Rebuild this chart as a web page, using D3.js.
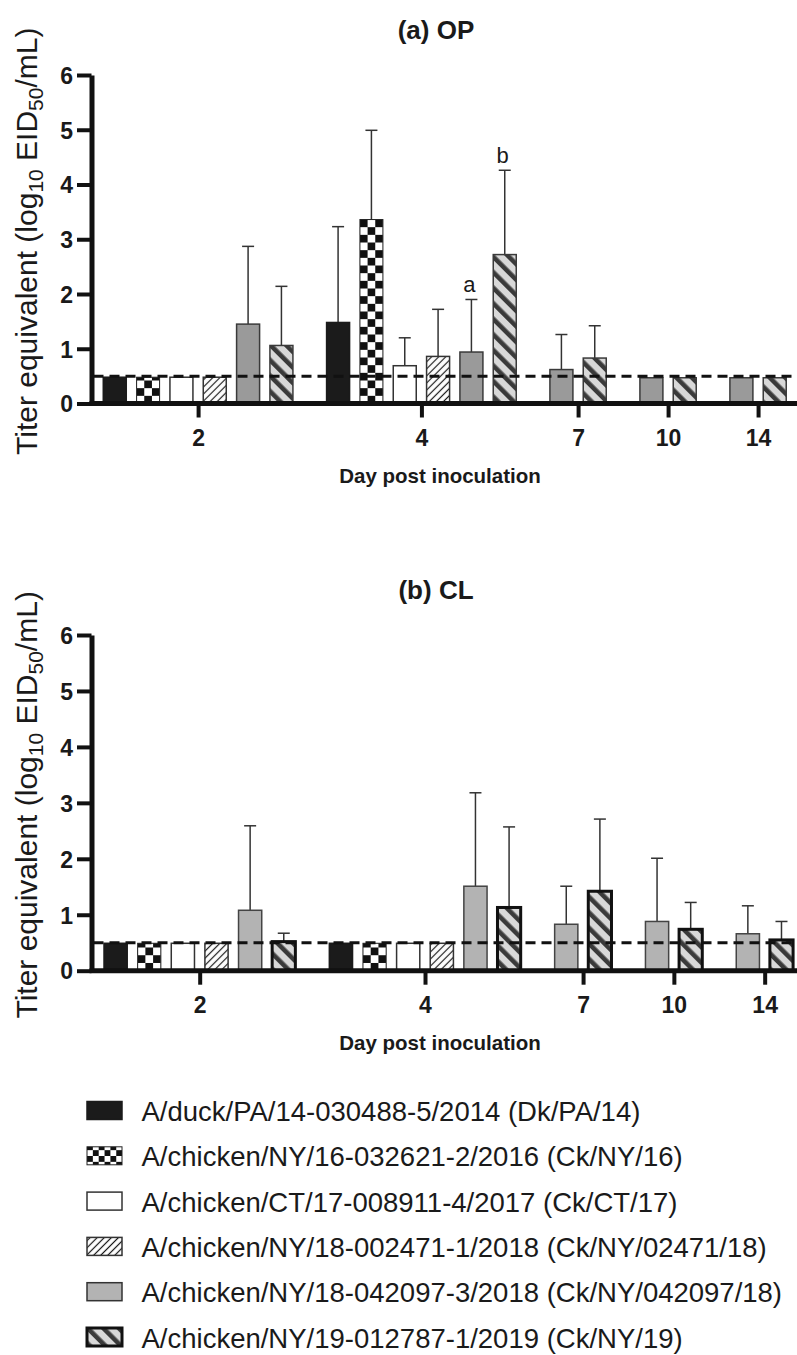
<!DOCTYPE html>
<html>
<head>
<meta charset="utf-8">
<script src="https://cdn.jsdelivr.net/npm/d3@7"></script>
<style>
  body { margin: 0; background: #fff; }
  text { font-family: "Liberation Sans", Arial, sans-serif; fill: #1a1a1a; }
</style>
</head>
<body>
<svg id="fig" width="797" height="1355"></svg>
<script>
// ---- data ----
var days = ["2", "4", "7", "10", "14"];

var strains = [
  "A/duck/PA/14-030488-5/2014 (Dk/PA/14)",
  "A/chicken/NY/16-032621-2/2016 (Ck/NY/16)",
  "A/chicken/CT/17-008911-4/2017 (Ck/CT/17)",
  "A/chicken/NY/18-002471-1/2018 (Ck/NY/02471/18)",
  "A/chicken/NY/18-042097-3/2018 (Ck/NY/042097/18)",
  "A/chicken/NY/19-012787-1/2019 (Ck/NY/19)"
];

// one row per strain, one column per day (null = not plotted)
var opMean = [
  [0.48, 1.48, null, null, null],
  [0.48, 3.36, null, null, null],
  [0.48, 0.69, null, null, null],
  [0.48, 0.86, null, null, null],
  [1.45, 0.94, 0.62, 0.47, 0.47],
  [1.06, 2.72, 0.83, 0.47, 0.47]
];
var opSD = [
  [0, 1.75, null, null, null],
  [0, 1.63, null, null, null],
  [0, 0.51, null, null, null],
  [0, 0.86, null, null, null],
  [1.42, 0.96, 0.64, 0, 0],
  [1.08, 1.54, 0.59, 0, 0]
];
var opLetters = [
  [null, null, null, null, null],
  [null, null, null, null, null],
  [null, null, null, null, null],
  [null, null, null, null, null],
  [null, "a", null, null, null],
  [null, "b", null, null, null]
];

var clMean = [
  [0.49, 0.49, null, null, null],
  [0.49, 0.49, null, null, null],
  [0.49, 0.49, null, null, null],
  [0.49, 0.49, null, null, null],
  [1.08, 1.51, 0.83, 0.88, 0.66],
  [0.52, 1.13, 1.42, 0.74, 0.55]
];
var clSD = [
  [0, 0, null, null, null],
  [0, 0, null, null, null],
  [0, 0, null, null, null],
  [0, 0, null, null, null],
  [1.51, 1.67, 0.68, 1.13, 0.50],
  [0.15, 1.44, 1.29, 0.48, 0.33]
];

var yTicks = [0, 1, 2, 3, 4, 5, 6];
var detectionLimit = 0.5;

// ---- drawing ----
var svg = d3.select("#fig");
var defs = svg.append("defs");

var hatch = defs.append("pattern")
    .attr("id", "hatch")
    .attr("patternUnits", "userSpaceOnUse")
    .attr("width", 5).attr("height", 5)
    .attr("patternTransform", "rotate(45)");
hatch.append("rect").attr("width", 5).attr("height", 5).attr("fill", "#fff");
hatch.append("line")
    .attr("x1", 2.5).attr("y1", 0).attr("x2", 2.5).attr("y2", 5)
    .attr("stroke", "#1a1a1a").attr("stroke-width", 1.2);

var diag = defs.append("pattern")
    .attr("id", "diag")
    .attr("patternUnits", "userSpaceOnUse")
    .attr("width", 11).attr("height", 11)
    .attr("patternTransform", "rotate(-45)");
diag.append("rect").attr("width", 11).attr("height", 11).attr("fill", "#d8d8d8");
diag.append("rect").attr("width", 4.6).attr("height", 11).attr("fill", "#3a3a3a");

var chkCount = 0;
function checker(x0, y0, size) {
  var id = "chk" + (chkCount++);
  var p = defs.append("pattern")
      .attr("id", id)
      .attr("patternUnits", "userSpaceOnUse")
      .attr("x", x0).attr("y", y0)
      .attr("width", size * 2).attr("height", size * 2);
  p.append("rect").attr("width", size * 2).attr("height", size * 2).attr("fill", "#fff");
  p.append("rect").attr("width", size).attr("height", size).attr("fill", "#111");
  p.append("rect").attr("x", size).attr("y", size).attr("width", size).attr("height", size).attr("fill", "#111");
  return "url(#" + id + ")";
}

var GAP = 0.7, PAD = 0.155;

function slotLayout(means) {
  var u = 0, slots = [], centers = [];
  days.forEach(function(d, di) {
    var start = u;
    d3.range(strains.length).forEach(function(s) {
      if (means[s][di] != null) { slots.push({ s: s, di: di, u: u }); u += 1; }
    });
    centers.push((start + u) / 2);
    u += GAP;
  });
  return { slots: slots, centers: centers, total: u - GAP };
}

function drawPanel(cfg) {
  var g = svg.append("g");
  var lay = slotLayout(cfg.mean);
  var x = d3.scaleLinear().domain([0, lay.total]).range(cfg.xRange);
  var y = d3.scaleLinear().domain([0, 6]).range(cfg.yRange);
  var axisX = 91.5;

  lay.slots.forEach(function(d) {
    d.v = cfg.mean[d.s][d.di];
    d.sd = cfg.sd[d.s][d.di] || 0;
    d.x = x(d.u + PAD);
    d.w = x(d.u + 1 - PAD) - x(d.u + PAD);
    d.cx = x(d.u + 0.5);
  });

  // error bars (upper only)
  var err = g.selectAll(".err").data(lay.slots.filter(function(d) { return d.sd > 0; }))
    .enter().append("g").attr("class", "err")
      .attr("stroke", "#333").attr("stroke-width", 1.5);
  err.append("line")
      .attr("x1", function(d) { return d.cx; }).attr("x2", function(d) { return d.cx; })
      .attr("y1", function(d) { return y(d.v); })
      .attr("y2", function(d) { return y(d.v + d.sd); });
  err.append("line")
      .attr("x1", function(d) { return d.cx - 6; }).attr("x2", function(d) { return d.cx + 6; })
      .attr("y1", function(d) { return y(d.v + d.sd); })
      .attr("y2", function(d) { return y(d.v + d.sd); });

  // bars
  g.selectAll(".bar").data(lay.slots)
    .enter().append("rect").attr("class", "bar")
      .attr("x", function(d) { return d.x; })
      .attr("width", function(d) { return d.w; })
      .attr("y", function(d) { return y(d.v); })
      .attr("height", function(d) { return y(0) - y(d.v); })
      .attr("fill", function(d) {
        if (d.s === 1) return checker(d.x, y(0), d.w / 3);
        return cfg.fills[d.s];
      })
      .attr("stroke", function(d) { return cfg.strokes[d.s]; })
      .attr("stroke-width", function(d) { return cfg.strokeWidths[d.s]; });

  // significance letters
  g.selectAll(".letter").data(lay.slots.filter(function(d) {
      return cfg.letters && cfg.letters[d.s][d.di];
    }))
    .enter().append("text").attr("class", "letter")
      .attr("x", function(d) { return d.cx - 2; })
      .attr("y", function(d) { return y(d.v + d.sd) - 7; })
      .attr("text-anchor", "middle")
      .attr("font-size", 22)
      .text(function(d) { return cfg.letters[d.s][d.di]; });

  // limit of detection
  g.append("line")
      .attr("x1", axisX + 2).attr("x2", 797)
      .attr("y1", y(detectionLimit)).attr("y2", y(detectionLimit))
      .attr("stroke", "#111").attr("stroke-width", 3)
      .attr("stroke-dasharray", "10,6");

  // y axis
  var ya = g.append("g")
      .attr("transform", "translate(" + axisX + ",0)")
      .call(d3.axisLeft(y).tickValues(yTicks).tickFormat(d3.format("d"))
        .tickSize(14.5).tickSizeOuter(0).tickPadding(4));
  ya.select(".domain").attr("stroke", "#111").attr("stroke-width", 5);
  ya.selectAll(".tick line").attr("stroke", "#111").attr("stroke-width", 4);
  ya.selectAll(".tick text")
      .attr("font-family", "'Liberation Sans', Arial, sans-serif")
      .attr("font-size", 23).attr("font-weight", "bold").attr("fill", "#1a1a1a")
      .attr("dy", "0.36em");

  // x axis
  var xa = g.append("g")
      .attr("transform", "translate(0," + y(0) + ")")
      .call(d3.axisBottom(x).tickValues(lay.centers)
        .tickFormat(function(d, i) { return days[i]; })
        .tickSize(14).tickSizeOuter(0));
  xa.select(".domain").remove();
  xa.append("line").attr("x1", axisX - 2).attr("x2", 797).attr("y1", 0).attr("y2", 0)
      .attr("stroke", "#111").attr("stroke-width", 5);
  xa.selectAll(".tick line").attr("stroke", "#111").attr("stroke-width", 4);
  xa.selectAll(".tick text")
      .attr("font-family", "'Liberation Sans', Arial, sans-serif")
      .attr("font-size", 23).attr("font-weight", "bold").attr("fill", "#1a1a1a")
      .attr("y", 42.5).attr("dy", 0);

  // x label
  g.append("text")
      .attr("x", 440).attr("y", y(0) + 79.5)
      .attr("text-anchor", "middle")
      .attr("font-size", 20.5).attr("font-weight", "bold")
      .text("Day post inoculation");

  // title
  g.append("text")
      .attr("x", 436).attr("y", y(6) - 36)
      .attr("text-anchor", "middle")
      .attr("font-size", 26).attr("font-weight", "bold")
      .text(cfg.title);

  // y label
  var yl = g.append("text")
      .attr("transform", "translate(37," + ((y(0) + y(6)) / 2 + 2) + ") rotate(-90)")
      .attr("text-anchor", "middle")
      .attr("font-size", 30);
  yl.append("tspan").text("Titer equivalent (log");
  yl.append("tspan").attr("font-size", 21).attr("dy", 6).text("10");
  yl.append("tspan").attr("dy", -6).text(" EID");
  yl.append("tspan").attr("font-size", 21).attr("dy", 6).text("50");
  yl.append("tspan").attr("dy", -6).text("/mL)");
}

drawPanel({
  title: "(a) OP",
  mean: opMean, sd: opSD, letters: opLetters,
  xRange: [98.1, 791.4], yRange: [403.5, 75],
  fills: ["#1b1b1b", null, "#fff", "url(#hatch)", "#9a9a9a", "url(#diag)"],
  strokes: ["#1b1b1b", "#222", "#333", "#333", "#3a3a3a", "#3a3a3a"],
  strokeWidths: [1.5, 1, 1.5, 1.5, 1.5, 1.5]
});

drawPanel({
  title: "(b) CL",
  mean: clMean, sd: clSD, letters: null,
  xRange: [98.8, 798.3], yRange: [970.7, 635],
  fills: ["#1b1b1b", null, "#fff", "url(#hatch)", "#b3b3b3", "url(#diag)"],
  strokes: ["#1b1b1b", "#222", "#333", "#333", "#444", "#111"],
  strokeWidths: [1.5, 1, 1.5, 1.5, 1.5, 3]
});

// ---- legend ----
var legendFills = ["#1b1b1b", null, "#fff", "url(#hatch)", "#b3b3b3", "url(#diag)"];
var legendStrokes = ["#1b1b1b", "#222", "#333", "#333", "#333", "#111"];
var legendStrokeW = [1.5, 1, 1.5, 1.5, 1.5, 3];
var legendY = d3.scaleLinear().domain([0, 5]).range([1110.5, 1337]);

var leg = svg.append("g").selectAll("g").data(strains)
  .enter().append("g")
    .attr("transform", function(d, i) { return "translate(0," + legendY(i) + ")"; });
leg.append("rect")
    .attr("x", 87).attr("y", -9).attr("width", 35).attr("height", 18)
    .attr("fill", function(d, i) {
      return i === 1 ? checker(87, legendY(i) - 9, 5.85) : legendFills[i];
    })
    .attr("stroke", function(d, i) { return legendStrokes[i]; })
    .attr("stroke-width", function(d, i) { return legendStrokeW[i]; });
leg.append("text")
    .attr("x", 141.5).attr("y", 10.5)
    .attr("font-size", 27.5)
    .text(function(d) { return d; });
</script>
</body>
</html>
